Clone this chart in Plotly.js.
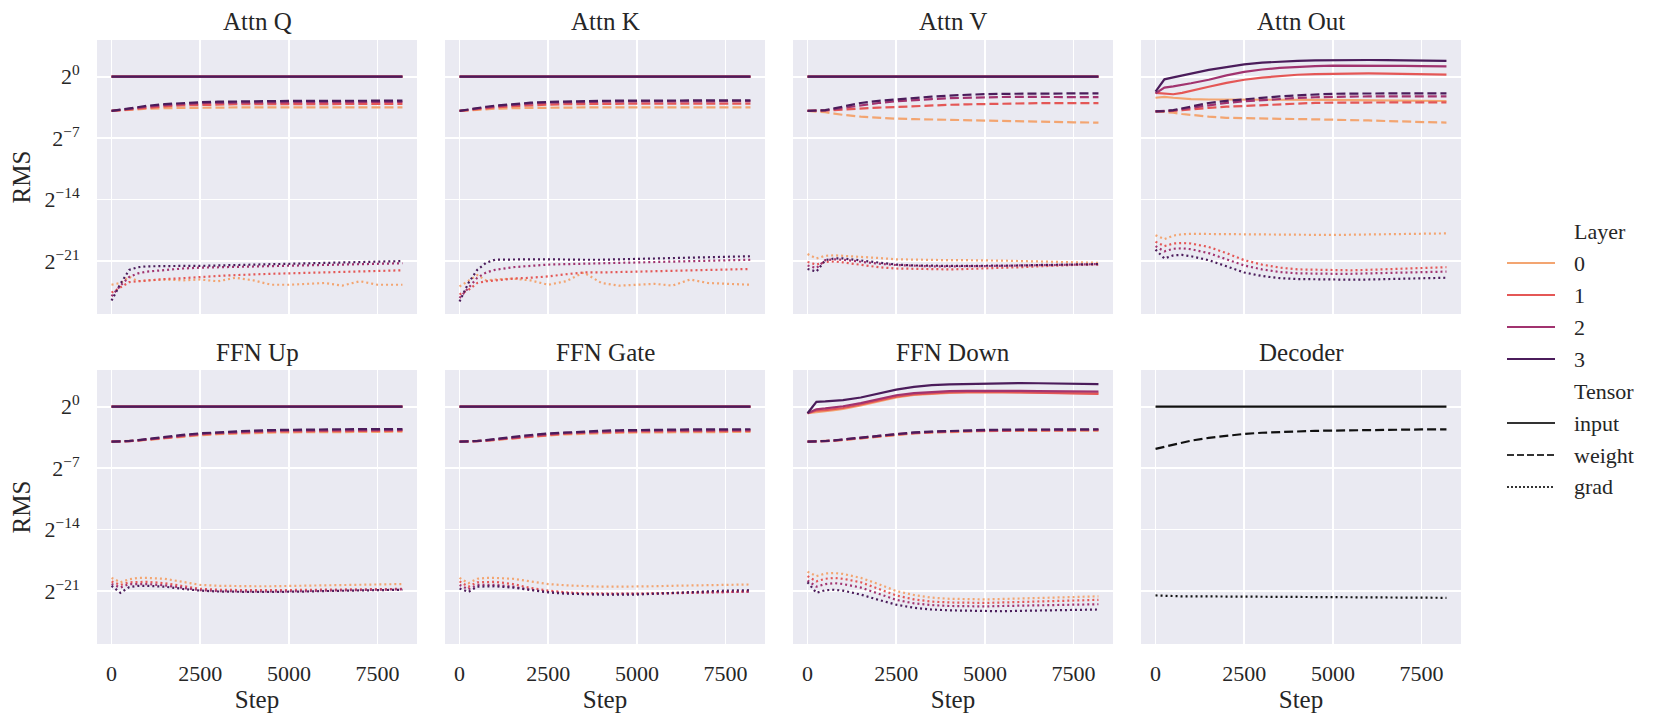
<!DOCTYPE html>
<html><head><meta charset="utf-8">
<script src="https://cdn.plot.ly/plotly-3.0.1.min.js"></script>
<style>html,body{margin:0;padding:0;background:#fff}</style>
</head><body><div id="chart" style="width:1660px;height:722px"></div>
<script>
// ---- data (values are log2 of RMS) ----
const STEPS = [0,250,500,750,1000,1500,2000,2500,3000,3500,4000,4500,5000,5500,6000,6500,7000,7500,8200];
const PANEL_TITLES = ["Attn Q","Attn K","Attn V","Attn Out","FFN Up","FFN Gate","FFN Down","Decoder"];
const LAYERS = ["0","1","2","3"];
const TENSORS = ["input","weight","grad"];
const Y_TICK_EXP = [0,-7,-14,-21];
const X_TICKS = [0,2500,5000,7500];

const FLAT_INPUT = [0,0,0,0,0,0,0,0,0,0,0,0,0,0,0,0,0,0,0];

// Attn Q
const attnQ_input = [FLAT_INPUT, FLAT_INPUT, FLAT_INPUT, FLAT_INPUT];
const attnQ_weight = [
 [-3.9,-3.83,-3.76,-3.7,-3.65,-3.58,-3.54,-3.52,-3.51,-3.5,-3.5,-3.5,-3.5,-3.5,-3.5,-3.5,-3.5,-3.5,-3.5],
 [-3.9,-3.8,-3.7,-3.6,-3.52,-3.38,-3.27,-3.2,-3.16,-3.14,-3.13,-3.12,-3.11,-3.11,-3.1,-3.1,-3.1,-3.1,-3.1],
 [-3.9,-3.77,-3.64,-3.52,-3.41,-3.23,-3.1,-3.02,-2.98,-2.95,-2.93,-2.92,-2.91,-2.9,-2.89,-2.89,-2.88,-2.88,-2.88],
 [-3.9,-3.75,-3.6,-3.45,-3.32,-3.12,-2.98,-2.9,-2.85,-2.81,-2.79,-2.77,-2.76,-2.75,-2.74,-2.74,-2.73,-2.73,-2.73]
];
const attnQ_grad = [
 [-23.7,-23.5,-22.8,-23.3,-23.2,-23.1,-23.2,-23.1,-23.3,-22.9,-23.2,-23.7,-23.7,-23.6,-23.5,-23.8,-23.3,-23.7,-23.7],
 [-24.6,-24.0,-23.4,-23.3,-23.2,-23.05,-22.95,-22.8,-22.7,-22.6,-22.5,-22.45,-22.4,-22.35,-22.3,-22.2,-22.15,-22.1,-22.05],
 [-25.0,-23.8,-22.8,-22.4,-22.2,-22.0,-21.85,-21.75,-21.7,-21.65,-21.6,-21.55,-21.5,-21.45,-21.4,-21.35,-21.35,-21.3,-21.25],
 [-25.5,-23.6,-22.0,-21.7,-21.6,-21.55,-21.55,-21.55,-21.5,-21.5,-21.45,-21.4,-21.35,-21.3,-21.25,-21.15,-21.1,-21.05,-21.0]
];

// Attn K
const attnK_input = [FLAT_INPUT, FLAT_INPUT, FLAT_INPUT, FLAT_INPUT];
const attnK_weight = [
 [-3.9,-3.83,-3.76,-3.7,-3.65,-3.58,-3.54,-3.52,-3.51,-3.5,-3.5,-3.5,-3.5,-3.5,-3.5,-3.5,-3.5,-3.5,-3.5],
 [-3.9,-3.79,-3.68,-3.58,-3.5,-3.36,-3.25,-3.18,-3.13,-3.1,-3.09,-3.08,-3.07,-3.07,-3.06,-3.06,-3.06,-3.06,-3.06],
 [-3.9,-3.75,-3.61,-3.49,-3.39,-3.2,-3.06,-2.97,-2.91,-2.87,-2.85,-2.83,-2.82,-2.81,-2.8,-2.8,-2.8,-2.79,-2.79],
 [-3.9,-3.72,-3.56,-3.42,-3.3,-3.1,-2.96,-2.87,-2.81,-2.77,-2.75,-2.73,-2.72,-2.71,-2.7,-2.7,-2.7,-2.69,-2.69]
];
const attnK_grad = [
 [-23.9,-23.3,-22.6,-23.2,-23.1,-23.0,-23.2,-23.7,-23.3,-22.3,-23.5,-23.8,-23.7,-23.6,-23.8,-23.1,-23.5,-23.6,-23.7],
 [-24.8,-24.3,-23.5,-23.3,-23.2,-23.0,-22.9,-22.75,-22.5,-22.3,-22.3,-22.25,-22.2,-22.1,-22.05,-22.0,-21.95,-21.95,-21.9],
 [-25.2,-24.0,-22.9,-22.3,-22.0,-21.7,-21.55,-21.4,-21.35,-21.3,-21.25,-21.2,-21.15,-21.1,-21.05,-21.0,-20.95,-20.9,-20.85],
 [-25.6,-23.5,-22.0,-21.2,-20.85,-20.8,-20.8,-20.8,-20.85,-20.85,-20.85,-20.8,-20.75,-20.7,-20.65,-20.6,-20.55,-20.5,-20.45]
];

// Attn V
const attnV_input = [FLAT_INPUT, FLAT_INPUT, FLAT_INPUT, FLAT_INPUT];
const attnV_weight = [
 [-3.9,-3.95,-4.05,-4.2,-4.35,-4.55,-4.7,-4.78,-4.83,-4.88,-4.92,-4.96,-5.0,-5.05,-5.1,-5.13,-5.17,-5.2,-5.23],
 [-3.9,-3.9,-3.88,-3.82,-3.75,-3.62,-3.52,-3.45,-3.35,-3.28,-3.2,-3.15,-3.1,-3.06,-3.03,-3.01,-3.0,-3.0,-3.0],
 [-3.9,-3.88,-3.83,-3.7,-3.55,-3.25,-3.0,-2.8,-2.65,-2.55,-2.45,-2.38,-2.33,-2.31,-2.3,-2.3,-2.31,-2.32,-2.33],
 [-3.9,-3.88,-3.8,-3.6,-3.4,-3.0,-2.75,-2.57,-2.4,-2.27,-2.15,-2.05,-1.98,-1.95,-1.93,-1.91,-1.9,-1.89,-1.89]
];
const attnV_grad = [
 [-20.2,-20.7,-20.4,-20.35,-20.4,-20.5,-20.65,-20.8,-20.85,-20.9,-20.9,-20.9,-20.9,-20.95,-21.0,-21.05,-21.1,-21.15,-21.2],
 [-21.1,-21.4,-21.1,-21.05,-21.15,-21.4,-21.7,-21.85,-21.9,-21.95,-21.95,-21.9,-21.85,-21.8,-21.7,-21.6,-21.5,-21.45,-21.4],
 [-21.5,-21.8,-20.9,-20.8,-20.85,-21.1,-21.3,-21.45,-21.55,-21.6,-21.6,-21.6,-21.6,-21.55,-21.5,-21.5,-21.45,-21.4,-21.35],
 [-21.9,-22.2,-20.9,-20.7,-20.7,-20.95,-21.2,-21.4,-21.5,-21.55,-21.55,-21.55,-21.55,-21.5,-21.5,-21.45,-21.4,-21.4,-21.35]
];

// Attn Out
const attnOut_input = [
 [-2.4,-2.3,-2.4,-2.5,-2.55,-2.6,-2.6,-2.58,-2.6,-2.62,-2.63,-2.64,-2.65,-2.67,-2.69,-2.71,-2.73,-2.75,-2.77],
 [-1.85,-1.9,-2.0,-1.85,-1.6,-1.15,-0.7,-0.35,-0.1,0.1,0.22,0.3,0.35,0.37,0.37,0.35,0.32,0.28,0.23],
 [-1.9,-1.25,-1.1,-0.95,-0.75,-0.35,0.15,0.55,0.82,1.0,1.12,1.2,1.25,1.26,1.26,1.25,1.23,1.2,1.18],
 [-1.7,-0.3,-0.07,0.15,0.38,0.77,1.1,1.4,1.6,1.72,1.8,1.85,1.88,1.9,1.9,1.88,1.85,1.82,1.8]
];
const attnOut_weight = [
 [-3.94,-4.0,-4.1,-4.25,-4.36,-4.55,-4.68,-4.74,-4.78,-4.8,-4.82,-4.84,-4.86,-4.92,-4.98,-5.05,-5.1,-5.15,-5.23],
 [-3.94,-3.93,-3.9,-3.82,-3.72,-3.55,-3.42,-3.33,-3.2,-3.1,-3.02,-2.98,-2.95,-2.94,-2.93,-2.93,-2.93,-2.92,-2.92],
 [-3.94,-3.92,-3.85,-3.7,-3.55,-3.2,-2.98,-2.8,-2.65,-2.52,-2.42,-2.34,-2.28,-2.26,-2.25,-2.25,-2.25,-2.25,-2.25],
 [-3.94,-3.92,-3.8,-3.6,-3.4,-3.0,-2.75,-2.57,-2.4,-2.25,-2.12,-2.02,-1.95,-1.92,-1.91,-1.9,-1.9,-1.89,-1.89]
];
const attnOut_grad = [
 [-18.05,-18.5,-18.1,-17.95,-17.9,-17.92,-17.95,-17.98,-18.0,-18.02,-18.03,-18.03,-18.03,-18.0,-17.98,-17.95,-17.92,-17.88,-17.85],
 [-18.8,-19.3,-19.0,-18.95,-19.0,-19.4,-20.1,-20.9,-21.4,-21.75,-21.95,-22.0,-22.05,-22.05,-22.0,-21.95,-21.85,-21.78,-21.7],
 [-19.3,-19.9,-19.6,-19.55,-19.65,-20.1,-20.8,-21.5,-21.95,-22.25,-22.4,-22.45,-22.45,-22.45,-22.4,-22.35,-22.3,-22.25,-22.2],
 [-19.7,-20.7,-20.35,-20.3,-20.45,-20.9,-21.6,-22.3,-22.7,-22.95,-23.05,-23.1,-23.12,-23.12,-23.1,-23.05,-23.0,-22.95,-22.9]
];

// FFN Up
const ffnUp_input = [FLAT_INPUT, FLAT_INPUT, FLAT_INPUT, FLAT_INPUT];
const ffnUp_weight = [
 [-3.98,-3.97,-3.94,-3.87,-3.78,-3.58,-3.4,-3.25,-3.13,-3.05,-2.99,-2.95,-2.92,-2.9,-2.88,-2.87,-2.86,-2.86,-2.85],
 [-3.98,-3.97,-3.93,-3.85,-3.75,-3.53,-3.33,-3.17,-3.05,-2.96,-2.89,-2.84,-2.81,-2.79,-2.77,-2.76,-2.75,-2.75,-2.74],
 [-3.98,-3.97,-3.92,-3.83,-3.72,-3.48,-3.27,-3.1,-2.97,-2.88,-2.8,-2.75,-2.71,-2.69,-2.67,-2.66,-2.65,-2.65,-2.64],
 [-3.98,-3.96,-3.9,-3.8,-3.68,-3.42,-3.2,-3.03,-2.9,-2.8,-2.72,-2.66,-2.62,-2.6,-2.58,-2.57,-2.56,-2.56,-2.55]
];
const ffnUp_grad = [
 [-19.5,-20.0,-19.65,-19.5,-19.5,-19.6,-19.95,-20.3,-20.4,-20.45,-20.45,-20.45,-20.42,-20.4,-20.35,-20.3,-20.25,-20.2,-20.2],
 [-19.9,-20.3,-20.0,-19.95,-19.95,-20.1,-20.45,-20.75,-20.85,-20.9,-20.9,-20.9,-20.9,-20.88,-20.85,-20.82,-20.8,-20.78,-20.75],
 [-20.2,-20.6,-20.2,-20.2,-20.2,-20.35,-20.65,-20.9,-21.0,-21.05,-21.05,-21.05,-21.05,-21.0,-20.95,-20.9,-20.85,-20.85,-20.8],
 [-20.4,-21.2,-20.55,-20.4,-20.4,-20.5,-20.75,-20.95,-21.05,-21.1,-21.1,-21.1,-21.1,-21.05,-21.0,-20.95,-20.9,-20.9,-20.85]
];

// FFN Gate
const ffnGate_input = [FLAT_INPUT, FLAT_INPUT, FLAT_INPUT, FLAT_INPUT];
const ffnGate_weight = [
 [-3.98,-3.97,-3.94,-3.88,-3.8,-3.6,-3.42,-3.27,-3.15,-3.06,-3.0,-2.96,-2.93,-2.91,-2.9,-2.89,-2.88,-2.88,-2.87],
 [-3.98,-3.97,-3.93,-3.86,-3.77,-3.55,-3.35,-3.19,-3.07,-2.98,-2.91,-2.86,-2.83,-2.81,-2.79,-2.78,-2.77,-2.77,-2.76],
 [-3.98,-3.97,-3.92,-3.84,-3.73,-3.5,-3.29,-3.12,-2.99,-2.9,-2.82,-2.77,-2.73,-2.71,-2.69,-2.68,-2.67,-2.67,-2.66],
 [-3.98,-3.96,-3.9,-3.81,-3.69,-3.44,-3.22,-3.05,-2.92,-2.82,-2.74,-2.68,-2.64,-2.62,-2.6,-2.59,-2.58,-2.58,-2.57]
];
const ffnGate_grad = [
 [-19.5,-20.1,-19.6,-19.5,-19.5,-19.6,-19.9,-20.2,-20.35,-20.45,-20.5,-20.5,-20.5,-20.45,-20.4,-20.35,-20.3,-20.25,-20.25],
 [-19.9,-20.5,-20.0,-19.95,-19.95,-20.2,-20.65,-20.95,-21.15,-21.25,-21.3,-21.3,-21.3,-21.25,-21.2,-21.15,-21.1,-21.05,-21.05],
 [-20.3,-20.8,-20.3,-20.3,-20.3,-20.5,-20.85,-21.1,-21.25,-21.35,-21.35,-21.35,-21.35,-21.3,-21.25,-21.2,-21.15,-21.1,-21.05],
 [-20.7,-21.1,-20.5,-20.45,-20.45,-20.6,-20.9,-21.15,-21.3,-21.38,-21.4,-21.4,-21.4,-21.3,-21.2,-21.1,-21.0,-20.95,-20.9]
];

// FFN Down
const ffnDown_input = [
 [-0.75,-0.6,-0.5,-0.4,-0.25,0.15,0.6,1.05,1.35,1.5,1.58,1.62,1.64,1.64,1.62,1.6,1.57,1.55,1.52],
 [-0.75,-0.45,-0.4,-0.3,-0.15,0.25,0.7,1.15,1.4,1.55,1.62,1.66,1.68,1.67,1.63,1.58,1.53,1.49,1.45],
 [-0.75,-0.3,-0.2,-0.1,0.05,0.4,0.85,1.3,1.55,1.7,1.78,1.8,1.82,1.82,1.8,1.78,1.76,1.73,1.71],
 [-0.75,0.55,0.6,0.65,0.75,1.05,1.5,1.95,2.25,2.45,2.55,2.6,2.65,2.68,2.7,2.67,2.63,2.6,2.58]
];
const ffnDown_weight = [
 [-3.98,-3.97,-3.94,-3.88,-3.8,-3.6,-3.4,-3.2,-3.05,-2.95,-2.87,-2.82,-2.78,-2.76,-2.75,-2.74,-2.73,-2.73,-2.72],
 [-3.98,-3.97,-3.93,-3.87,-3.78,-3.57,-3.36,-3.16,-3.01,-2.91,-2.83,-2.78,-2.74,-2.72,-2.7,-2.69,-2.68,-2.68,-2.67],
 [-3.98,-3.97,-3.92,-3.85,-3.76,-3.54,-3.32,-3.12,-2.97,-2.87,-2.79,-2.74,-2.7,-2.67,-2.65,-2.64,-2.63,-2.63,-2.62],
 [-3.98,-3.96,-3.91,-3.83,-3.73,-3.5,-3.28,-3.08,-2.93,-2.83,-2.75,-2.69,-2.65,-2.62,-2.6,-2.59,-2.58,-2.58,-2.57]
];
const ffnDown_grad = [
 [-18.8,-19.3,-19.0,-18.95,-19.05,-19.5,-20.2,-21.0,-21.45,-21.75,-21.88,-21.93,-21.95,-21.9,-21.85,-21.75,-21.7,-21.65,-21.6],
 [-19.3,-19.9,-19.6,-19.5,-19.6,-20.0,-20.75,-21.5,-21.95,-22.2,-22.3,-22.35,-22.35,-22.3,-22.25,-22.2,-22.1,-22.05,-22.0],
 [-19.8,-20.5,-20.2,-20.1,-20.2,-20.6,-21.3,-22.0,-22.4,-22.6,-22.7,-22.75,-22.75,-22.7,-22.65,-22.6,-22.55,-22.5,-22.5],
 [-20.0,-21.2,-20.9,-20.85,-20.95,-21.4,-22.0,-22.55,-22.9,-23.1,-23.2,-23.25,-23.3,-23.3,-23.25,-23.2,-23.15,-23.12,-23.1]
];

// Decoder (single series per tensor)
const decoder_input = FLAT_INPUT;
const decoder_weight = [-4.8,-4.55,-4.3,-4.07,-3.87,-3.55,-3.3,-3.1,-2.97,-2.88,-2.8,-2.75,-2.72,-2.68,-2.65,-2.63,-2.61,-2.59,-2.58];
const decoder_grad = [-21.5,-21.55,-21.58,-21.6,-21.6,-21.62,-21.63,-21.65,-21.66,-21.67,-21.68,-21.69,-21.7,-21.71,-21.72,-21.73,-21.74,-21.75,-21.77];

// ---- styling ----
const LAYER_COLORS = ["#f3a571","#e45756","#a1336f","#4b1c5b"];
const DECODER_COLOR = "#111111";
const DASH = {input:"solid", weight:"9px,4px", grad:"2px,3px"};
const LW = 2.2;
const FONT = "Liberation Serif, Times New Roman, serif";
const TXT = "#262626";

const W = 1660, H = 722;
const M = {l:97, r:199, t:40, b:78};
const PW = W - M.l - M.r, PH = H - M.t - M.b;
const px2x = p => (p - M.l) / PW;
const px2y = p => 1 - (p - M.t) / PH;
const COLS = [[97,417],[445,765],[793,1113],[1141,1461]].map(c => [px2x(c[0]), px2x(c[1])]);
const ROWS = [[40,314],[370,644]].map(r => [px2y(r[1]), px2y(r[0])]);

const PANEL_DATA = [
 [attnQ_input, attnQ_weight, attnQ_grad],
 [attnK_input, attnK_weight, attnK_grad],
 [attnV_input, attnV_weight, attnV_grad],
 [attnOut_input, attnOut_weight, attnOut_grad],
 [ffnUp_input, ffnUp_weight, ffnUp_grad],
 [ffnGate_input, ffnGate_weight, ffnGate_grad],
 [ffnDown_input, ffnDown_weight, ffnDown_grad]
];

const toRMS = arr => arr.map(v => Math.pow(2, v));
const traces = [];
const layout = {
  width: W, height: H, autosize: false,
  margin: {l:M.l, r:M.r, t:M.t, b:M.b, pad:0},
  paper_bgcolor: "#ffffff", plot_bgcolor: "#eaeaf2",
  showlegend: false,
  font: {family: FONT, size: 22, color: TXT},
  annotations: [], shapes: []
};

const yRange = [Math.log10(Math.pow(2,-27.03)), Math.log10(Math.pow(2,4.18))];

for (let i = 0; i < 8; i++) {
  const r = Math.floor(i/4), c = i % 4;
  const xa = i === 0 ? "x" : "x" + (i+1);
  const ya = i === 0 ? "y" : "y" + (i+1);
  const xk = i === 0 ? "xaxis" : "xaxis" + (i+1);
  const yk = i === 0 ? "yaxis" : "yaxis" + (i+1);
  const xaxis = {
    domain: COLS[c], anchor: ya, range: [-410, 8610],
    tickmode: "array", tickvals: X_TICKS, ticktext: X_TICKS.map(String),
    showticklabels: r === 1, ticks: "outside", ticklen: 10, tickcolor: "rgba(0,0,0,0)",
    tickfont: {family: FONT, size: 22, color: TXT},
    showgrid: true, gridcolor: "#ffffff", gridwidth: 1.6, zeroline: false, showline: false
  };
  if (r === 1) xaxis.title = {text: "Step", font: {family: FONT, size: 25, color: TXT}, standoff: 4};
  const yaxis = {
    domain: ROWS[r], anchor: xa, type: "log", range: yRange,
    tickmode: "array", tickvals: Y_TICK_EXP.map(e => Math.pow(2, e)),
    ticktext: Y_TICK_EXP.map(e => "2<sup>" + (e < 0 ? "\u2212" + (-e) : e) + "</sup>"),
    showticklabels: c === 0, ticks: "outside", ticklen: 12, tickcolor: "rgba(0,0,0,0)",
    tickfont: {family: FONT, size: 22, color: TXT},
    showgrid: true, gridcolor: "#ffffff", gridwidth: 1.6, zeroline: false, showline: false
  };
  if (c === 0) yaxis.title = {text: "RMS", font: {family: FONT, size: 25, color: TXT}, standoff: 6};
  layout[xk] = xaxis;
  layout[yk] = yaxis;
  layout.annotations.push({
    text: PANEL_TITLES[i], xref: "paper", yref: "paper",
    x: (COLS[c][0] + COLS[c][1]) / 2, y: ROWS[r][1] + 18 / PH,
    xanchor: "center", yanchor: "middle", showarrow: false,
    font: {family: FONT, size: 25, color: TXT}
  });

  if (i < 7) {
    const d = PANEL_DATA[i];
    for (let l = 0; l < 4; l++) {
      for (let t = 0; t < 3; t++) {
        traces.push({
          type: "scatter", mode: "lines", x: STEPS, y: toRMS(d[t][l]),
          xaxis: xa, yaxis: ya, name: "Layer " + LAYERS[l] + " " + TENSORS[t],
          line: {color: LAYER_COLORS[l], width: LW, dash: DASH[TENSORS[t]]},
          hoverinfo: "skip"
        });
      }
    }
  } else {
    const d = [decoder_input, decoder_weight, decoder_grad];
    for (let t = 0; t < 3; t++) {
      traces.push({
        type: "scatter", mode: "lines", x: STEPS, y: toRMS(d[t]),
        xaxis: xa, yaxis: ya, name: "Decoder " + TENSORS[t],
        line: {color: DECODER_COLOR, width: LW, dash: DASH[TENSORS[t]]},
        hoverinfo: "skip"
      });
    }
  }
}

// ---- legend (drawn manually to match the reference layout) ----
const LEG_ROWS = [
  {label: "Layer", header: true},
  {label: LAYERS[0], color: LAYER_COLORS[0], dash: "solid"},
  {label: LAYERS[1], color: LAYER_COLORS[1], dash: "solid"},
  {label: LAYERS[2], color: LAYER_COLORS[2], dash: "solid"},
  {label: LAYERS[3], color: LAYER_COLORS[3], dash: "solid"},
  {label: "Tensor", header: true},
  {label: TENSORS[0], color: "#333333", dash: "solid"},
  {label: TENSORS[1], color: "#333333", dash: "dash"},
  {label: TENSORS[2], color: "#333333", dash: "dot"}
];
LEG_ROWS.forEach((row, k) => {
  const py = 231 + k * 32;
  layout.annotations.push({
    text: row.label, xref: "paper", yref: "paper",
    x: px2x(1572), y: px2y(py), xanchor: "left", yanchor: "middle",
    showarrow: false, font: {family: FONT, size: 22, color: TXT}
  });
  if (!row.header) {
    layout.shapes.push({
      type: "line", xref: "paper", yref: "paper",
      x0: px2x(1507), x1: px2x(1555), y0: px2y(py), y1: px2y(py),
      line: {color: row.color, width: LW, dash: row.dash === "dash" ? "7px,3px" : (row.dash === "dot" ? "2px,2px" : "solid")}
    });
  }
});

Plotly.newPlot("chart", traces, layout, {staticPlot: true, displayModeBar: false});
</script></body></html>
